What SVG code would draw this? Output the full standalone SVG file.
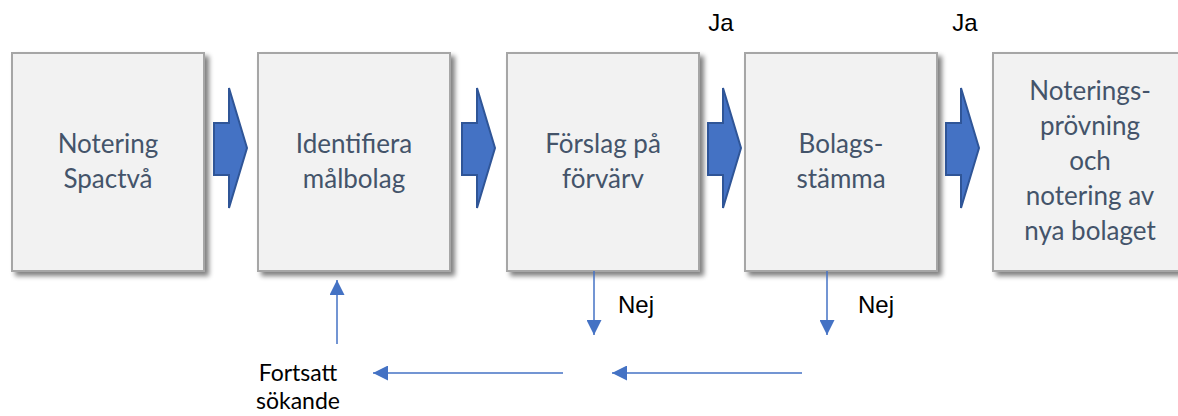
<svg xmlns="http://www.w3.org/2000/svg" width="1178" height="416" viewBox="0 0 1178 416">
<style>
.box{fill:#F2F2F2;stroke:#A6A6A6;stroke-width:2}
.bt{font-family:Lato,"Open Sans",sans-serif;font-size:26px;fill:#44546A;text-anchor:middle}
.lbl{font-family:"Liberation Sans",Arial,sans-serif;font-size:24px;fill:#000;text-anchor:middle}
.fs{font-family:Lato,"Open Sans",sans-serif;font-size:23px;fill:#000;text-anchor:middle}
.blk{fill:#4472C4;stroke:#2F5597;stroke-width:2;stroke-linejoin:miter}
.ln{stroke:#4472C4;stroke-width:1.5;fill:none}
</style>
<defs>
<filter id="sh" x="-10%" y="-10%" width="130%" height="130%">
<feGaussianBlur in="SourceAlpha" stdDeviation="2.5"/>
<feOffset dx="4" dy="4" result="b"/>
<feComponentTransfer><feFuncA type="linear" slope="0.5"/></feComponentTransfer>
<feMerge><feMergeNode/><feMergeNode in="SourceGraphic"/></feMerge>
</filter>
<marker id="ahb" viewBox="0 0 10 10" refX="10" refY="5" markerWidth="15" markerHeight="15" markerUnits="userSpaceOnUse" orient="auto">
<path d="M0,0 L10,5 L0,10 Z" fill="#4472C4"/>
</marker>
</defs>
<g id="n1"><rect class="box" x="12" y="53" width="192" height="218" filter="url(#sh)"/>
<text class="bt" x="108" y="153">Notering</text><text class="bt" x="108" y="188">Spactvå</text></g>
<g id="n2"><rect class="box" x="258" y="53" width="192" height="218" filter="url(#sh)"/>
<text class="bt" x="354" y="153">Identifiera</text><text class="bt" x="354" y="188">målbolag</text></g>
<g id="n3"><rect class="box" x="507" y="53" width="192" height="218" filter="url(#sh)"/>
<text class="bt" x="603" y="153">Förslag på</text><text class="bt" x="603" y="188">förvärv</text></g>
<g id="n4"><rect class="box" x="745" y="53" width="192" height="218" filter="url(#sh)"/>
<text class="bt" x="841" y="153">Bolags-</text><text class="bt" x="841" y="188">stämma</text></g>
<g id="n5"><rect class="box" x="993" y="53" width="200" height="218" filter="url(#sh)"/>
<text class="bt" x="1090" y="100">Noterings-</text><text class="bt" x="1090" y="135">prövning</text><text class="bt" x="1090" y="170">och</text><text class="bt" x="1090" y="205">notering av</text><text class="bt" x="1090" y="240">nya bolaget</text></g>
<g id="fortsatt"><text class="fs" x="298" y="381">Fortsatt</text><text class="fs" x="298" y="409">sökande</text></g>
<g id="connectors">
<path class="blk" d="M214,123 H229 V88 L247,148 L229,208 V175 H214 Z"/>
<path class="blk" d="M462,123 H477 V88 L495,148 L477,208 V175 H462 Z"/>
<path class="blk" d="M708,123 H723 V88 L741,148 L723,208 V175 H708 Z"/>
<path class="blk" d="M946,123 H961 V88 L979,148 L961,208 V175 H946 Z"/>
<line class="ln" x1="594" y1="271" x2="594" y2="335" marker-end="url(#ahb)"/>
<line class="ln" x1="827" y1="271" x2="827" y2="335" marker-end="url(#ahb)"/>
<line class="ln" x1="802" y1="373" x2="612" y2="373" marker-end="url(#ahb)"/>
<line class="ln" x1="563" y1="373" x2="373" y2="373" marker-end="url(#ahb)"/>
<line class="ln" x1="337" y1="344" x2="337" y2="280" marker-end="url(#ahb)"/>
<text class="lbl" x="721" y="31">Ja</text>
<text class="lbl" x="965" y="31">Ja</text>
<text class="lbl" x="636" y="313">Nej</text>
<text class="lbl" x="876" y="313">Nej</text>
</g>
</svg>
